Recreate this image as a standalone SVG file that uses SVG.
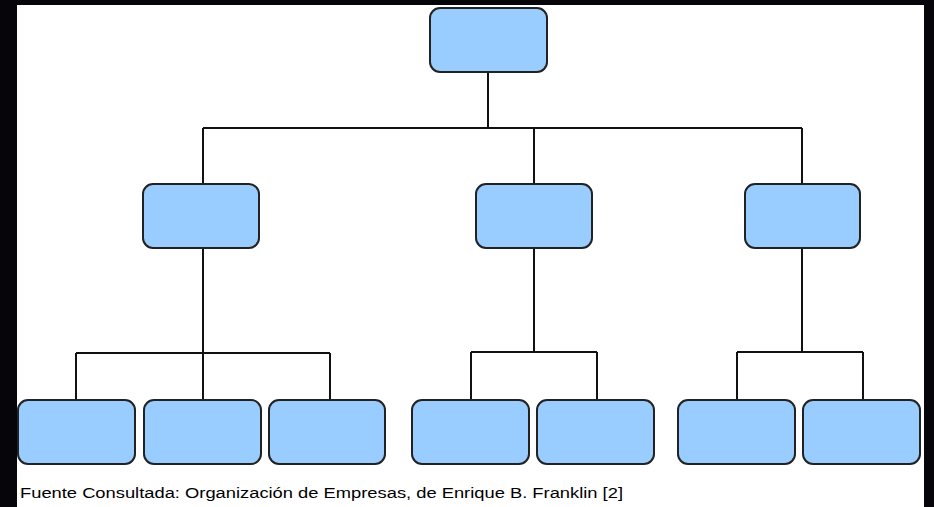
<svg xmlns="http://www.w3.org/2000/svg" width="934" height="507" viewBox="0 0 934 507">
<style>
.n{fill:#99ccff;stroke:#222;stroke-width:2}
.c{fill:none;stroke:#111;stroke-width:2}
.t{font-family:"Liberation Sans",Arial,sans-serif;font-size:14px;fill:#000}
</style>
<rect x="0" y="0" width="934" height="507" fill="#05050a"/>
<rect x="17" y="5" width="907" height="502" fill="#fff"/>
<g id="connectors">
<path class="c" d="M488 72V128M203 128H802M203 128V184M534 128V184M802 128V184"/>
<path class="c" d="M203 248V400M76 353H330M76 353V400M330 353V400"/>
<path class="c" d="M534 248V352M471 352H597M471 352V400M597 352V400"/>
<path class="c" d="M802 248V352M737 352H863M737 352V400M863 352V400"/>
</g>
<g id="n0"><rect class="n" x="430" y="8" width="117" height="64" rx="10"/></g>
<g id="n1"><rect class="n" x="143" y="184" width="116" height="64" rx="10"/></g>
<g id="n2"><rect class="n" x="476" y="184" width="116" height="64" rx="10"/></g>
<g id="n3"><rect class="n" x="745" y="184" width="115" height="64" rx="10"/></g>
<g id="n4"><rect class="n" x="18" y="400" width="117" height="64" rx="10"/></g>
<g id="n5"><rect class="n" x="144" y="400" width="117" height="64" rx="10"/></g>
<g id="n6"><rect class="n" x="269" y="400" width="116" height="64" rx="10"/></g>
<g id="n7"><rect class="n" x="412" y="400" width="117" height="64" rx="10"/></g>
<g id="n8"><rect class="n" x="537" y="400" width="117" height="64" rx="10"/></g>
<g id="n9"><rect class="n" x="678" y="400" width="117" height="64" rx="10"/></g>
<g id="n10"><rect class="n" x="803" y="400" width="117" height="64" rx="10"/></g>
<text class="t" x="20" y="498" textLength="603" lengthAdjust="spacingAndGlyphs">Fuente Consultada: Organización de Empresas, de Enrique B. Franklin [2]</text>
</svg>
